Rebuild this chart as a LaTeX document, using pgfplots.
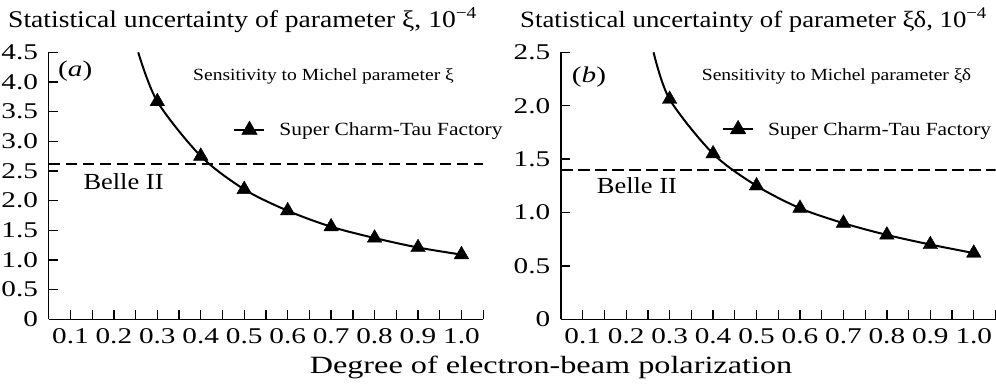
\documentclass[border=0pt]{standalone}
\usepackage{fontspec}
\setmainfont{Liberation Serif}[FakeStretch=1.3]
\newfontfamily\nfont{Liberation Serif}[FakeStretch=1.15]
\usepackage{pgfplots}
\pgfplotsset{compat=1.18}
\pgfplotsset{
  panel/.style={
    scale only axis, width=434.5pt, height=267pt, anchor=south west,
    xmin=0.05, xmax=1.05, ymin=0,
    axis x line*=bottom, axis y line*=left,
    axis line style={-, line width=1.5pt, black},
    tick align=inside, major tick length=9pt, minor tick length=9pt,
    tick style={black, line width=1.3pt},
    minor tick style={black, line width=1.3pt},
    xtick={0.1,0.2,0.3,0.4,0.5,0.6,0.7,0.8,0.9,1.0},
    xticklabels={0.1,0.2,0.3,0.4,0.5,0.6,0.7,0.8,0.9,1.0},
    minor xtick={0.15,0.25,0.35,0.45,0.55,0.65,0.75,0.85,0.95,1.05},
    tick label style={font=\fontsize{22.5}{24}\selectfont},
    /pgf/number format/assume math mode=true,
    xticklabel style={inner sep=0pt, anchor=north, yshift=-9.5pt},
    yticklabel style={inner sep=0pt, anchor=east, xshift=-10.5pt},
    legend style={draw=none, fill=none, inner sep=0pt, anchor=west,
      font=\nfont\fontsize{18.6}{21}\selectfont, legend cell align=left,
      /tikz/every odd column/.append style={column sep=12pt}},
    legend image code/.code={\draw[mark repeat=2,mark phase=2] plot coordinates {(0pt,0pt) (15pt,0pt) (30pt,0pt)};},
  }
}
\begin{document}
\begin{tikzpicture}
\useasboundingbox (0pt,0pt) rectangle (996pt,384pt);
% ---- panel (a)
\begin{axis}[panel, at={(48.7pt,64.7pt)}, ymax=4.5,
  ytick={0,0.5,1.0,1.5,2.0,2.5,3.0,3.5,4.0,4.5},
  yticklabels={0,0.5,1.0,1.5,2.0,2.5,3.0,3.5,4.0,4.5},
  legend style={at={(axis cs:0.4748,3.19)}}]
\addplot[black, line width=2pt, smooth, forget plot] coordinates {(0.256,4.5) (0.3,3.67) (0.4,2.75) (0.5,2.19) (0.6,1.83) (0.7,1.56) (0.8,1.37) (0.9,1.21) (1.0,1.09)};
\addplot[black, only marks, mark=triangle*, mark size=8.4pt, mark options={line width=0.4pt}, forget plot] coordinates {(0.3,3.67) (0.4,2.75) (0.5,2.19) (0.6,1.83) (0.7,1.56) (0.8,1.37) (0.9,1.21) (1.0,1.09)};
\addplot[black, line width=1.8pt, dash pattern=on 11.5pt off 5.5pt, forget plot] coordinates {(0.05,2.62) (1.05,2.62)};
\addlegendimage{black, line width=2pt, mark=triangle*, mark size=9pt, mark options={line width=0.4pt, solid}}
\addlegendentry{Super Charm-Tau Factory}
\end{axis}
% ---- panel (b)
\begin{axis}[panel, at={(561pt,64.7pt)}, ymax=2.5,
  ytick={0,0.5,1.0,1.5,2.0,2.5},
  yticklabels={0,0.5,1.0,1.5,2.0,2.5},
  legend style={at={(axis cs:0.4203,1.779)}}]
\addplot[black, line width=2pt, smooth, forget plot] coordinates {(0.263,2.5) (0.3,2.06) (0.4,1.55) (0.5,1.25) (0.6,1.04) (0.7,0.90) (0.8,0.79) (0.9,0.70) (1.0,0.62)};
\addplot[black, only marks, mark=triangle*, mark size=8.4pt, mark options={line width=0.4pt}, forget plot] coordinates {(0.3,2.06) (0.4,1.55) (0.5,1.25) (0.6,1.04) (0.7,0.90) (0.8,0.79) (0.9,0.70) (1.0,0.62)};
\addplot[black, line width=1.8pt, dash pattern=on 11.5pt off 5.5pt, forget plot] coordinates {(0.05,1.40) (1.05,1.40)};
\addlegendimage{black, line width=2pt, mark=triangle*, mark size=9pt, mark options={line width=0.4pt, solid}}
\addlegendentry{Super Charm-Tau Factory}
\end{axis}
% ---- texts
\node[anchor=base west, inner sep=0pt, font=\nfont\fontsize{24}{26}\selectfont] at (8pt,356pt) {Statistical uncertainty of parameter ξ, 10\textsuperscript{−4}};
\node[anchor=base west, inner sep=0pt, font=\nfont\fontsize{23.3}{26}\selectfont] at (520pt,356pt) {Statistical uncertainty of parameter ξδ, 10\textsuperscript{−4}};
\node[anchor=base west, inner sep=0pt, font=\fontsize{22.5}{24}\selectfont] at (58pt,307.5pt) {(\textit{a})};
\node[anchor=base west, inner sep=0pt, font=\fontsize{22.5}{24}\selectfont] at (571.7pt,301.3pt) {(\textit{b})};
\node[anchor=base west, inner sep=0pt, font=\nfont\fontsize{17}{19}\selectfont] at (193pt,303.5pt) {Sensitivity to Michel parameter ξ};
\node[anchor=base west, inner sep=0pt, font=\nfont\fontsize{17}{19}\selectfont] at (701.7pt,303.5pt) {Sensitivity to Michel parameter ξδ};
\node[anchor=base west, inner sep=0pt, font=\nfont\fontsize{23}{25}\selectfont] at (83.3pt,195pt) {Belle II};
\node[anchor=base west, inner sep=0pt, font=\nfont\fontsize{23}{25}\selectfont] at (596.7pt,190.7pt) {Belle II};
\node[anchor=base, inner sep=0pt, font=\fontsize{24.8}{28}\selectfont] at (551pt,10.5pt) {Degree of electron-beam polarization};
\end{tikzpicture}
\end{document}
